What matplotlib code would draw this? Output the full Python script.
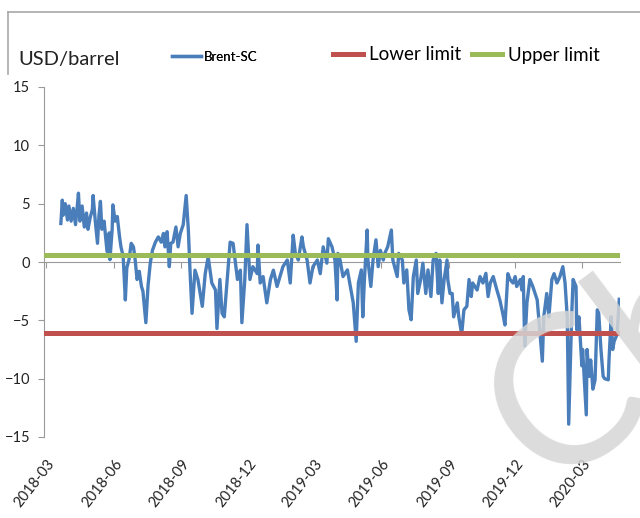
import matplotlib
matplotlib.use('Agg')
import matplotlib.pyplot as plt
import matplotlib.dates as mdates
import matplotlib.transforms as mtransforms
from matplotlib.lines import Line2D
import pandas as pd

plt.rcParams['font.family'] = ['Lato', 'DejaVu Sans']

# ---------------- data ----------------
start_date = '2018-03-01'
day_offsets = [
    20, 22, 23, 26, 29, 31, 34, 37, 40, 42, 44, 46, 49, 52, 55, 57, 60, 63, 64, 67,
    70, 72, 74, 76, 79, 82, 83, 86, 87, 90, 91, 94, 97, 100, 102, 105, 108, 110, 113, 116,
    119, 121, 124, 127, 130, 132, 136, 139, 142, 145, 149, 153, 157, 160, 162, 165, 168, 170, 173, 177,
    180, 183, 187, 191, 194, 196,
    199, 203, 207, 213, 217, 221, 226, 231, 233, 237, 240, 243, 247, 251, 255, 261, 265, 267, 271, 274,
    278, 282, 288, 289, 292, 296, 301, 306, 310, 315, 319, 323, 329, 333, 337, 340, 344, 349, 351, 356,
    360, 364, 370, 374, 378, 383, 385, 390, 394, 397, 398,
    401, 405, 411, 415, 419, 423, 426, 430, 432, 434, 438, 439, 443, 446, 450, 453, 456, 460, 462, 466,
    471, 473, 479, 481, 486, 488, 492, 495, 498, 501, 505, 507, 511, 514, 518, 521, 525, 528, 532, 535,
    537, 540, 543, 547, 548, 551, 554, 556, 561, 563, 567, 570, 574, 577, 580, 582, 588, 592, 596, 600,
    603,
    606, 610, 615, 619, 623, 626, 630, 633, 637, 640, 642, 647, 649, 651, 653, 656, 660, 664, 670, 672,
    677, 679, 683, 686, 690, 693, 697, 701, 705, 708, 711, 713, 717, 719, 723, 724, 727, 731, 732, 737,
    738, 741, 743, 746, 749, 752, 754, 757, 760, 762, 767, 768, 771, 773, 775, 779, 782,
]
brent_sc = [
    3.3, 5.3, 4.0, 5.0, 3.6, 4.8, 3.5, 4.6, 3.2, 4.5, 5.9, 3.5, 4.8, 3.0, 4.2, 2.8, 3.8, 4.5, 5.7, 3.5,
    1.6, 4.0, 5.2, 2.8, 3.5, 1.6, 0.9, 2.5, 0.2, 2.8, 4.9, 3.5, 3.9, 2.2, 1.3, 0.5, -3.25, -0.5, 0.2, 1.6,
    1.3, 0.45, -1.5, -0.8, -2.1, -2.5, -5.2, -2.0, -0.1, 1.0, 1.7, 2.15, 1.7, 2.45, 1.3, 2.6, -0.4, 1.6, 1.7, 3.0,
    1.3, 2.45, 3.2, 5.7, 2.7, -0.4,
    -4.4, -0.7, -1.5, -3.8, -1.0, 0.45, -1.8, -2.4, -5.7, -1.5, -4.4, -4.7, -1.5, 1.7, 1.6, -1.5, -0.7, -5.2, -1.5, 3.2,
    -1.5, -0.4, -1.0, 1.45, -1.8, -1.25, -3.5, -1.5, -0.7, -2.1, -1.25, -0.4, 0.17, -1.8, 2.3, 0.74, 0.17, 2.15, 1.3, 0.17,
    -1.8, -0.4, 0.17, -1.0, 1.3, -0.1, 2.0, 1.3, 0.17, -3.25, 0.74,
    0.17, -1.25, -0.68, -2.1, -3.5, -6.8, -1.8, -0.68, -4.7, -1.8, 2.74, 0.17, -2.1, 0.17, 1.9, -0.4, 1.0, 0.17, 0.74, 1.3,
    2.74, 0.17, -1.25, 0.74, 0.17, -1.8, -0.68, -4.1, -4.95, -1.25, 0.17, -2.7, -1.5, -0.1, -2.7, -0.68, -2.96, 0.17, 0.74, -2.7,
    0.17, -3.5, -1.5, 0.17, -1.5, -2.7, -2.7, -4.7, -3.5, -4.7, -6.2, -4.1, -3.8, -1.5, -2.96, -1.8, -2.4, -1.25, -1.8, -0.97,
    -2.96,
    -1.8, -1.25, -2.4, -3.25, -4.4, -5.4, -1.0, -1.5, -1.8, -1.25, -2.1, -1.5, -2.4, -1.25, -7.2, -3.5, -1.5, -2.1, -3.25, -4.7,
    -8.5, -4.7, -2.7, -4.7, -1.5, -1.0, -1.8, -1.25, -0.4, -1.8, -4.7, -13.9, -4.7, -1.5, -2.1, -5.8, -4.7, -8.9, -7.5, -13.1,
    -7.5, -9.8, -8.4, -10.9, -10.1, -4.1, -4.4, -7.5, -9.8, -10.0, -10.1, -8.4, -4.7, -7.5, -6.8, -6.2, -3.2,
]
lower_limit = -6.1
upper_limit = 0.6
tick_dates = ['2018-03-01', '2018-06-01', '2018-09-01', '2018-12-01', '2019-03-01',
              '2019-06-01', '2019-09-01', '2019-12-01', '2020-03-01']
tick_labels = ['2018-03', '2018-06', '2018-09', '2018-12', '2019-03',
               '2019-06', '2019-09', '2019-12', '2020-03']
x_range = ['2018-02-26', '2020-04-22']
y_ticks = [-15, -10, -5, 0, 5, 10, 15]
unit_label = 'USD/barrel'
watermark = 'Ch'

# ---------------- plot ----------------
dates = pd.Timestamp(start_date) + pd.to_timedelta(day_offsets, unit='D')

BLUE = '#4a7ebb'
RED = '#c0504d'
GREEN = '#9bbb59'
GRAY = '#9a9a9a'

fig = plt.figure(figsize=(6.4, 5.18), dpi=100)
ax = fig.add_axes([44 / 640, 81 / 518, 576 / 640, 350 / 518])

line_b, = ax.plot(dates, brent_sc, color=BLUE, lw=2.4, zorder=3, solid_joinstyle='round')
line_l = ax.axhline(lower_limit, color=RED, lw=3.6, zorder=4)
line_u = ax.axhline(upper_limit, color=GREEN, lw=3.6, zorder=4)

ax.set_xlim(pd.Timestamp(x_range[0]), pd.Timestamp(x_range[1]))
ax.set_ylim(y_ticks[0], y_ticks[-1])

for s in ['top', 'right']:
    ax.spines[s].set_visible(False)
ax.spines['left'].set_color(GRAY)
ax.spines['bottom'].set_color(GRAY)
ax.spines['bottom'].set_position(('data', 0))
ax.spines['bottom'].set_zorder(2)

ax.set_yticks(y_ticks)
ax.tick_params(axis='y', length=4, color=GRAY, pad=6, labelsize=10.5, labelcolor='#222222')
tick_nums = [mdates.date2num(pd.Timestamp(d)) for d in tick_dates]
ax.set_xticks(tick_nums)
ax.tick_params(axis='x', length=4, color=GRAY, direction='out', labelbottom=False)

lab_tr = mtransforms.blended_transform_factory(ax.transData, ax.transAxes) + \
    mtransforms.ScaledTranslation(6 / 100, -24 / 100, fig.dpi_scale_trans)
for tn, lab in zip(tick_nums, tick_labels):
    ax.text(tn, 0, lab, transform=lab_tr, rotation=52, ha='right', va='center',
            rotation_mode='anchor', fontsize=10.5, color='#222222')

# unit label and legends
fig.text(18 / 640, 1 - 60 / 518, unit_label, fontsize=14.5, va='center', ha='left', color='#222222')
leg1 = fig.legend([line_b], ['Brent-SC'], loc='center left',
                  bbox_to_anchor=(172 / 640, 1 - 57 / 518), frameon=False, borderpad=0,
                  borderaxespad=0, handlelength=2.2, handletextpad=0.2,
                  prop={'family': ['Liberation Sans Narrow', 'Lato'], 'size': 9.5})
leg2 = fig.legend([line_l, line_u], ['Lower limit', 'Upper limit'], loc='center left', ncol=2,
                  bbox_to_anchor=(333 / 640, 1 - 55 / 518), frameon=False, borderpad=0,
                  borderaxespad=0, handlelength=1.6, handletextpad=0.3, columnspacing=0.6,
                  prop={'size': 13.5})
fig.add_artist(leg1)

# outer frame fragment
fig.add_artist(Line2D([8 / 640, 1.0], [1 - 12 / 518, 1 - 12 / 518], transform=fig.transFigure,
                      color='#a8a8a8', lw=1.2))
fig.add_artist(Line2D([8 / 640, 8 / 640], [1 - 12 / 518, 1 - 74 / 518], transform=fig.transFigure,
                      color='#a8a8a8', lw=1.2))

# watermark
fig.text(546 / 640, 1 - 490 / 518, watermark, fontsize=150, rotation=37, rotation_mode='anchor',
         color='#d6d6d6', alpha=0.85, ha='left', va='baseline', zorder=10)

fig.savefig('out.png', dpi=100)
